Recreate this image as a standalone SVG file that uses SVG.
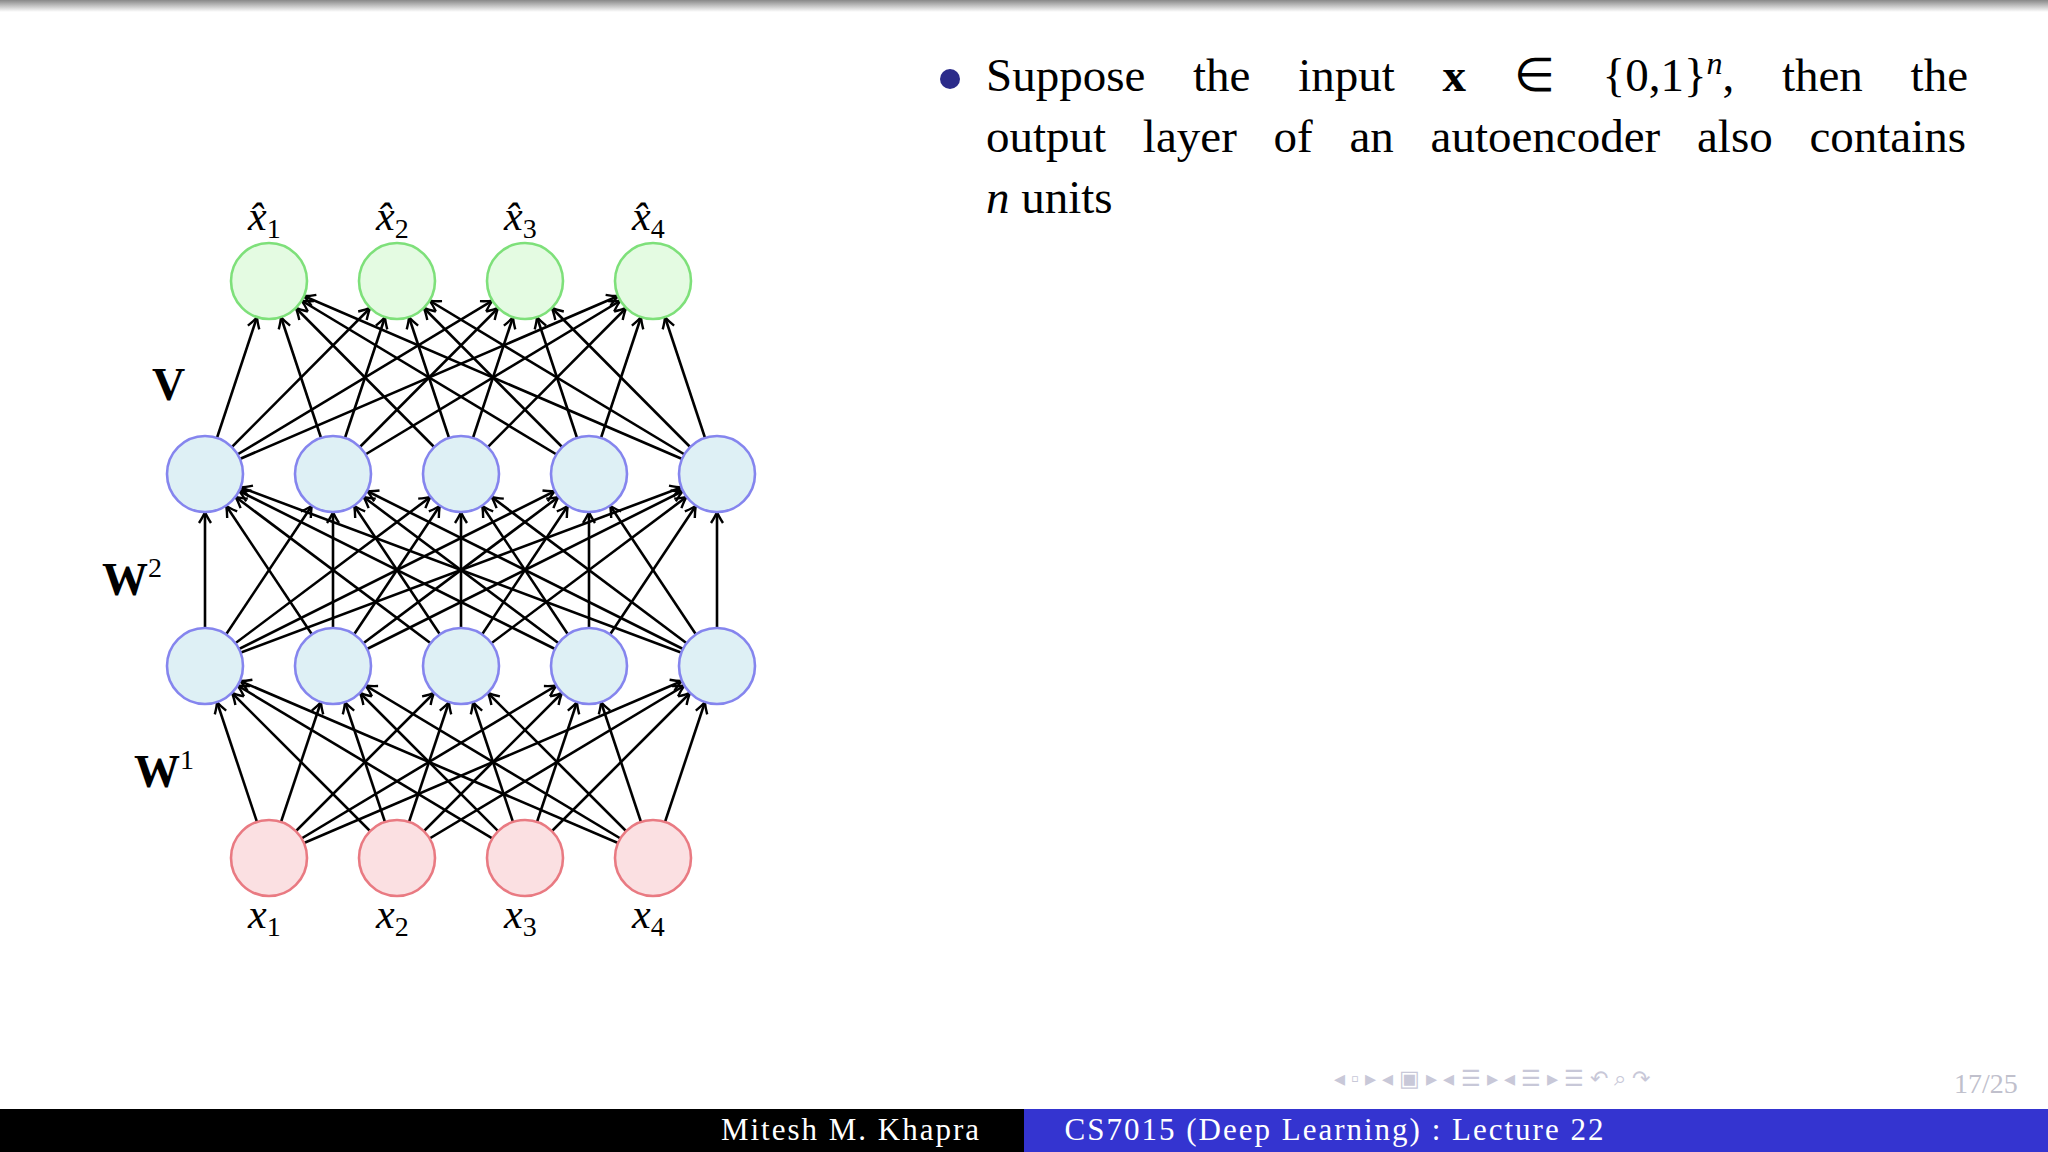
<svg xmlns="http://www.w3.org/2000/svg" width="2048" height="1152" viewBox="0 0 2048 1152">
<defs>
<linearGradient id="tb" x1="0" y1="0" x2="0" y2="1"><stop offset="0" stop-color="#888"/><stop offset="1" stop-color="#fff"/></linearGradient>
<marker id="ah" markerUnits="userSpaceOnUse" markerWidth="80" markerHeight="40" viewBox="-60 -20 80 40" refX="38" refY="0" orient="auto" overflow="visible">
<path d="M-11,-6 Q-4,-1.5 0,0 Q-4,1.5 -11,6" fill="none" stroke="#000" stroke-width="2.4"/>
</marker>
<style>
.e{stroke:#000;stroke-width:2.6;marker-end:url(#ah)}
.o{fill:#e4fbe2;stroke:#7ee07a;stroke-width:2.6}
.h{fill:#def0f5;stroke:#8585ee;stroke-width:2.6}
.i{fill:#fbe0e2;stroke:#e97a82;stroke-width:2.6}
.m{font-family:"Liberation Serif",serif;font-style:italic;font-size:42px}
.s{font-family:"Liberation Serif",serif;font-size:28px}
.b{font-family:"Liberation Serif",serif;font-weight:bold;font-size:46px}
.t{font-family:"Liberation Serif",serif;font-size:47px}
.f{font-family:"Liberation Serif",serif;font-size:31px;fill:#fff;letter-spacing:2px}
</style>
</defs>
<rect width="2048" height="1152" fill="#fff"/>
<rect width="2048" height="12" fill="url(#tb)"/>
<g id="connectors">
<g>
<line class="e" x1="269" y1="858" x2="205" y2="666"/><line class="e" x1="269" y1="858" x2="333" y2="666"/><line class="e" x1="269" y1="858" x2="461" y2="666"/><line class="e" x1="269" y1="858" x2="589" y2="666"/><line class="e" x1="269" y1="858" x2="717" y2="666"/>
<line class="e" x1="397" y1="858" x2="205" y2="666"/><line class="e" x1="397" y1="858" x2="333" y2="666"/><line class="e" x1="397" y1="858" x2="461" y2="666"/><line class="e" x1="397" y1="858" x2="589" y2="666"/><line class="e" x1="397" y1="858" x2="717" y2="666"/>
<line class="e" x1="525" y1="858" x2="205" y2="666"/><line class="e" x1="525" y1="858" x2="333" y2="666"/><line class="e" x1="525" y1="858" x2="461" y2="666"/><line class="e" x1="525" y1="858" x2="589" y2="666"/><line class="e" x1="525" y1="858" x2="717" y2="666"/>
<line class="e" x1="653" y1="858" x2="205" y2="666"/><line class="e" x1="653" y1="858" x2="333" y2="666"/><line class="e" x1="653" y1="858" x2="461" y2="666"/><line class="e" x1="653" y1="858" x2="589" y2="666"/><line class="e" x1="653" y1="858" x2="717" y2="666"/>
</g>
<g>
<line class="e" x1="205" y1="666" x2="205" y2="474"/><line class="e" x1="205" y1="666" x2="333" y2="474"/><line class="e" x1="205" y1="666" x2="461" y2="474"/><line class="e" x1="205" y1="666" x2="589" y2="474"/><line class="e" x1="205" y1="666" x2="717" y2="474"/>
<line class="e" x1="333" y1="666" x2="205" y2="474"/><line class="e" x1="333" y1="666" x2="333" y2="474"/><line class="e" x1="333" y1="666" x2="461" y2="474"/><line class="e" x1="333" y1="666" x2="589" y2="474"/><line class="e" x1="333" y1="666" x2="717" y2="474"/>
<line class="e" x1="461" y1="666" x2="205" y2="474"/><line class="e" x1="461" y1="666" x2="333" y2="474"/><line class="e" x1="461" y1="666" x2="461" y2="474"/><line class="e" x1="461" y1="666" x2="589" y2="474"/><line class="e" x1="461" y1="666" x2="717" y2="474"/>
<line class="e" x1="589" y1="666" x2="205" y2="474"/><line class="e" x1="589" y1="666" x2="333" y2="474"/><line class="e" x1="589" y1="666" x2="461" y2="474"/><line class="e" x1="589" y1="666" x2="589" y2="474"/><line class="e" x1="589" y1="666" x2="717" y2="474"/>
<line class="e" x1="717" y1="666" x2="205" y2="474"/><line class="e" x1="717" y1="666" x2="333" y2="474"/><line class="e" x1="717" y1="666" x2="461" y2="474"/><line class="e" x1="717" y1="666" x2="589" y2="474"/><line class="e" x1="717" y1="666" x2="717" y2="474"/>
</g>
<g>
<line class="e" x1="205" y1="474" x2="269" y2="281"/><line class="e" x1="205" y1="474" x2="397" y2="281"/><line class="e" x1="205" y1="474" x2="525" y2="281"/><line class="e" x1="205" y1="474" x2="653" y2="281"/>
<line class="e" x1="333" y1="474" x2="269" y2="281"/><line class="e" x1="333" y1="474" x2="397" y2="281"/><line class="e" x1="333" y1="474" x2="525" y2="281"/><line class="e" x1="333" y1="474" x2="653" y2="281"/>
<line class="e" x1="461" y1="474" x2="269" y2="281"/><line class="e" x1="461" y1="474" x2="397" y2="281"/><line class="e" x1="461" y1="474" x2="525" y2="281"/><line class="e" x1="461" y1="474" x2="653" y2="281"/>
<line class="e" x1="589" y1="474" x2="269" y2="281"/><line class="e" x1="589" y1="474" x2="397" y2="281"/><line class="e" x1="589" y1="474" x2="525" y2="281"/><line class="e" x1="589" y1="474" x2="653" y2="281"/>
<line class="e" x1="717" y1="474" x2="269" y2="281"/><line class="e" x1="717" y1="474" x2="397" y2="281"/><line class="e" x1="717" y1="474" x2="525" y2="281"/><line class="e" x1="717" y1="474" x2="653" y2="281"/>
</g>
</g>
<g id="o1"><circle class="o" cx="269" cy="281" r="38"/><text class="m" x="248" y="230">x̂<tspan class="s" font-style="normal" dy="8">1</tspan></text></g>
<g id="o2"><circle class="o" cx="397" cy="281" r="38"/><text class="m" x="376" y="230">x̂<tspan class="s" font-style="normal" dy="8">2</tspan></text></g>
<g id="o3"><circle class="o" cx="525" cy="281" r="38"/><text class="m" x="504" y="230">x̂<tspan class="s" font-style="normal" dy="8">3</tspan></text></g>
<g id="o4"><circle class="o" cx="653" cy="281" r="38"/><text class="m" x="632" y="230">x̂<tspan class="s" font-style="normal" dy="8">4</tspan></text></g>
<g id="h21"><circle class="h" cx="205" cy="474" r="38"/></g>
<g id="h22"><circle class="h" cx="333" cy="474" r="38"/></g>
<g id="h23"><circle class="h" cx="461" cy="474" r="38"/></g>
<g id="h24"><circle class="h" cx="589" cy="474" r="38"/></g>
<g id="h25"><circle class="h" cx="717" cy="474" r="38"/></g>
<g id="h11"><circle class="h" cx="205" cy="666" r="38"/></g>
<g id="h12"><circle class="h" cx="333" cy="666" r="38"/></g>
<g id="h13"><circle class="h" cx="461" cy="666" r="38"/></g>
<g id="h14"><circle class="h" cx="589" cy="666" r="38"/></g>
<g id="h15"><circle class="h" cx="717" cy="666" r="38"/></g>
<g id="i1"><circle class="i" cx="269" cy="858" r="38"/><text class="m" x="248" y="928">x<tspan class="s" font-style="normal" dy="8">1</tspan></text></g>
<g id="i2"><circle class="i" cx="397" cy="858" r="38"/><text class="m" x="376" y="928">x<tspan class="s" font-style="normal" dy="8">2</tspan></text></g>
<g id="i3"><circle class="i" cx="525" cy="858" r="38"/><text class="m" x="504" y="928">x<tspan class="s" font-style="normal" dy="8">3</tspan></text></g>
<g id="i4"><circle class="i" cx="653" cy="858" r="38"/><text class="m" x="632" y="928">x<tspan class="s" font-style="normal" dy="8">4</tspan></text></g>
<text class="b" x="152" y="400">V</text>
<text class="b" x="102" y="595">W<tspan class="s" font-weight="normal" dy="-18">2</tspan></text>
<text class="b" x="134" y="787">W<tspan class="s" font-weight="normal" dy="-18">1</tspan></text>
<circle cx="950" cy="79" r="10" fill="#2b2b8a"/>
<text class="t" x="986" y="91" word-spacing="36">Suppose the input <tspan font-weight="bold">x</tspan> ∈ {0,1}<tspan font-style="italic" font-size="32" dy="-17">n</tspan><tspan dy="17">, then the</tspan></text>
<text class="t" x="986" y="152" word-spacing="25">output layer of an autoencoder also contains</text>
<text class="t" x="986" y="213"><tspan font-style="italic">n</tspan> units</text>
<g fill="#c8c8d8" font-family="Liberation Sans,sans-serif" font-size="22">
<text x="1334" y="1086">◂ ▫ ▸  ◂ ▣ ▸  ◂ ☰ ▸  ◂ ☰ ▸    ☰   ↶ ⌕ ↷</text>
</g>
<text x="1954" y="1093" font-family="Liberation Serif,serif" font-size="28" fill="#c0c0cc">17/25</text>
<rect x="0" y="1109" width="1024" height="43" fill="#000"/>
<rect x="1024" y="1109" width="1024" height="43" fill="#3434d0"/>
<text class="f" x="851" y="1140" text-anchor="middle">Mitesh M. Khapra</text>
<text class="f" x="1335" y="1140" text-anchor="middle">CS7015 (Deep Learning) : Lecture 22</text>
</svg>
